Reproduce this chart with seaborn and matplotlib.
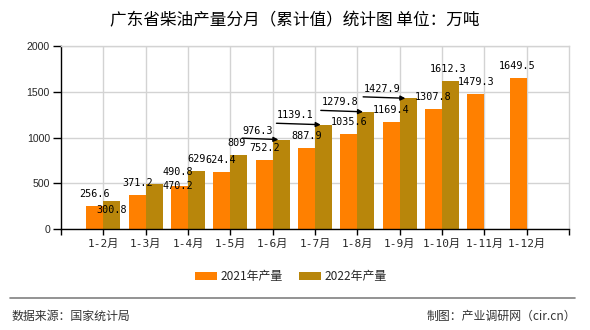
import matplotlib
matplotlib.use("Agg")
import matplotlib.pyplot as plt
import pandas as pd
import seaborn as sns
from matplotlib.patches import Patch
from matplotlib.lines import Line2D

# ---------------- data ----------------
months = ['1-2月', '1-3月', '1-4月', '1-5月', '1-6月', '1-7月',
          '1-8月', '1-9月', '1-10月', '1-11月', '1-12月']
prod_2021 = [256.6, 371.2, 470.2, 624.4, 752.2, 887.9, 1035.6, 1169.4, 1307.8, 1479.3, 1649.5]
prod_2022 = [300.8, 490.8, 629, 809, 976.3, 1139.1, 1279.8, 1427.9, 1612.3, None, None]
series = ['2021年产量', '2022年产量']
yticks = [0, 500, 1000, 1500, 2000]
title = '广东省柴油产量分月（累计值）统计图 单位：万吨'
source = '数据来源：国家统计局'
maker = '制图：产业调研网（cir.cn）'

# ---------------- styles ----------------
colors = ['#FF8000', '#B8860B']
# value-label offsets (pixels, relative to bar top centre)
off_2021 = [(0, 12), (0, 12), (-2, 0), (-1, 12), (0, 12), (0, 11.5),
            (0, 12), (0, 11.5), (0, 12), (0, 12), (-1, 12)]
off_2022 = [(0, -9), (24, 12), (0, 12), (-2, 12), (-23, 9), (-28, 10),
            (-26, 10), (-26, 9), (-2, 12.5)]
lead_2022 = [False, False, False, False, True, True, True, True, False]

sns.set_style('white')
plt.rcParams['font.family'] = ['Noto Sans CJK SC', 'DejaVu Sans']

df = pd.DataFrame({
    '月份': months * 2,
    '系列': [series[0]] * len(months) + [series[1]] * len(months),
    '产量': prod_2021 + prod_2022,
}).dropna()

fig = plt.figure(figsize=(5.9, 3.3), dpi=100)
ax = fig.add_axes([61 / 590, 1 - 229 / 330, 508 / 590, (229 - 46) / 330])

sns.barplot(data=df, x='月份', y='产量', hue='系列', order=months,
            hue_order=series, palette=colors, width=0.8, saturation=1,
            errorbar=None, ax=ax, legend=False, zorder=2,
            linewidth=0, edgecolor='none')

ax.set_xlim(-1, len(months))
ax.set_ylim(0, 2000)
ax.set_yticks(yticks)
ax.set_yticklabels([str(v) for v in yticks], fontfamily='Liberation Sans', fontsize=7.6)
ax.set_xticks(range(len(months)))
ax.set_xticklabels(months, fontfamily=['DejaVu Sans Mono', 'Noto Sans CJK SC'], fontsize=8)
ax.set_xticks([-1, len(months)], minor=True)
ax.set_xlabel('')
ax.set_ylabel('')
ax.set_axisbelow(True)
ax.grid(True, color='#d3d3d3', lw=1)
ax.tick_params(axis='x', which='both', length=4, width=1, color='black', pad=3, bottom=True)
ax.tick_params(axis='y', length=6, width=1, color='black', pad=2, left=True)
for s in ['left', 'bottom']:
    ax.spines[s].set_color('black')
    ax.spines[s].set_linewidth(1)
for s in ['top', 'right']:
    ax.spines[s].set_color('#d3d3d3')
    ax.spines[s].set_linewidth(1)

# ---------------- value labels ----------------
vals_2021 = [v for v in prod_2021 if v is not None]
vals_2022 = [v for v in prod_2022 if v is not None]
groups = [(ax.containers[0], vals_2021, off_2021, [False] * len(vals_2021)),
          (ax.containers[1], vals_2022, off_2022, lead_2022)]
for cont, vals, offs, leads in groups:
    for bar, v, (dx, dy), lead in zip(cont.patches, vals, offs, leads):
        x = bar.get_x() + bar.get_width() / 2
        h = bar.get_height()
        txt = f'{v:g}'
        ax.annotate(txt, xy=(x, h), xytext=(dx, dy), textcoords='offset pixels',
                    ha='center', va='center', fontsize=7.3,
                    fontfamily='DejaVu Sans Mono', color='black', zorder=5)
        if lead:
            w = len(txt) * 6.0
            ax.annotate('', xy=(x, h), xytext=(dx - w / 2 - 1, 1.5),
                        textcoords='offset pixels',
                        arrowprops=dict(arrowstyle='-|>', color='black', lw=1,
                                        shrinkA=0, shrinkB=2, mutation_scale=7),
                        zorder=5)

# ---------------- title, legend, footer ----------------
fig.text(0.5, 1 - 20.5 / 330, title, ha='center', va='center', fontsize=12, color='black')

handles = [Patch(facecolor=c, edgecolor='none', label=s) for c, s in zip(colors, series)]
fig.legend(handles=handles, loc='center', bbox_to_anchor=(291 / 590, 1 - 276.7 / 330),
           ncol=2, frameon=False, fontsize=8.6, handlelength=1.85, handleheight=0.7,
           handletextpad=0.3, columnspacing=1.4)

fig.add_artist(Line2D([10 / 590, 575 / 590], [1 - 298 / 330] * 2, color='#808080', lw=1.2))
fig.text(11 / 590, 1 - 316 / 330, source, ha='left', va='center', fontsize=8.6, color='#333333')
fig.text(576 / 590, 1 - 316 / 330, maker, ha='right', va='center', fontsize=8.6, color='#333333')

fig.savefig('out.png', dpi=100)
